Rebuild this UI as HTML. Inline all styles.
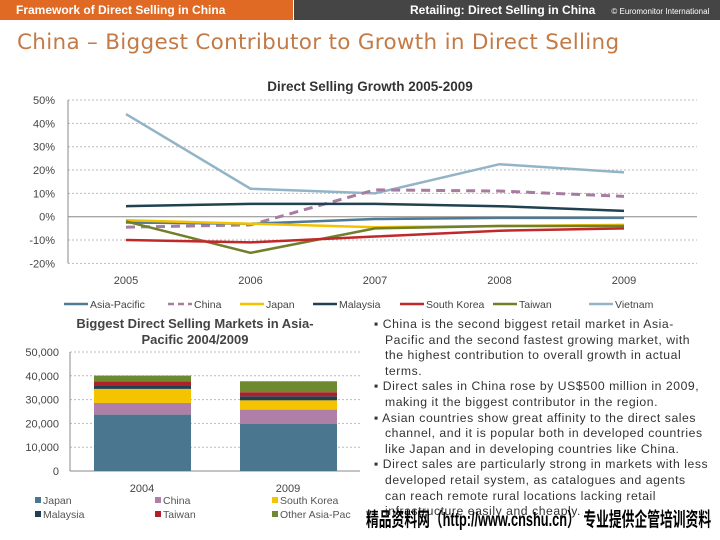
<!DOCTYPE html>
<html><head><meta charset="utf-8">
<style>
body{margin:0;width:720px;height:540px;overflow:hidden;background:#fff;font-family:"Liberation Sans",sans-serif;position:relative}
.hdr1{position:absolute;left:0;top:0;width:293px;height:20px;background:#e06a23;color:#fff;font-size:12px;line-height:21px;padding-left:16px;box-sizing:border-box;font-weight:bold}
.hdr2{position:absolute;left:294px;top:0;width:426px;height:20px;background:#454545;color:#fff;font-size:12px;line-height:21px;font-weight:bold}
.title{position:absolute;left:17px;top:30px;font-family:"DejaVu Sans",sans-serif;font-size:21.5px;color:#c47a45;letter-spacing:0.3px;white-space:nowrap}
.bul{position:absolute;left:374px;top:317px;width:336px;font-size:12.2px;line-height:15.6px;color:#333}
.bul div{padding-left:11px;text-indent:-11px;letter-spacing:0.55px}
.wm{position:absolute;left:366px;top:503px;font-family:"Liberation Sans","Noto Sans CJK SC",sans-serif;font-weight:bold;font-size:19.5px;color:#000;white-space:nowrap;transform-origin:0 0;transform:scaleX(0.655)}
</style></head><body>
<div class="hdr1">Framework of Direct Selling in China</div>
<div class="hdr2"><span style="margin-left:116px">Retailing: Direct Selling in China</span><span style="font-size:8px;margin-left:16px;font-weight:normal">© Euromonitor International</span></div>
<div class="title">China – Biggest Contributor to Growth in Direct Selling</div>
<svg id="line" width="720" height="320" style="position:absolute;left:0;top:0"></svg>
<svg id="bar" width="370" height="540" style="position:absolute;left:0;top:0"></svg>
<div class="bul">
<div>▪ China is the second biggest retail market in Asia-Pacific and the second fastest growing market, with the highest contribution to overall growth in actual terms.</div>
<div>▪ Direct sales in China rose by US$500 million in 2009, making it the biggest contributor in the region.</div>
<div>▪ Asian countries show great affinity to the direct sales channel, and it is popular both in developed countries like Japan and in developing countries like China.</div>
<div>▪ Direct sales are particularly strong in markets with less developed retail system, as catalogues and agents can reach remote rural locations lacking retail infrastructure easily and cheaply.</div>
</div>
<div class="wm">精品资料网（http://www.cnshu.cn） 专业提供企管培训资料</div>
<script>
const years=["2005","2006","2007","2008","2009"];
const yTicks=[50,40,30,20,10,0,-10,-20];
const seriesNames=["Asia-Pacific","China","Japan","Malaysia","South Korea","Taiwan","Vietnam"];
const asiaPacific=[-2.5,-3,-1,-0.5,-0.5];
const china=[-4.5,-3.5,11.5,11,8.7];
const japan=[-1.5,-3,-4.5,-4,-3.5];
const malaysia=[4.5,5.5,5.5,4.5,2.5];
const southKorea=[-10,-11,-8.5,-6,-5];
const taiwan=[-2,-15.5,-5,-4,-4];
const vietnam=[44,12,10,22.5,19];

const barCats=["2004","2009"];
const barSeries=["Japan","China","South Korea","Malaysia","Taiwan","Other Asia-Pac"];
const jp=[23700,19900];
const cn=[4900,5900];
const sk=[5900,3900];
const my=[1400,1700];
const tw=[1800,1700];
const oth=[2400,4600];
const barTicks=[0,10000,20000,30000,40000,50000];

const NS="http://www.w3.org/2000/svg";
function mk(p,t,a,txt){const e=document.createElementNS(NS,t);for(const k in a)e.setAttribute(k,a[k]);if(txt!==undefined)e.textContent=txt;p.appendChild(e);return e;}

// line chart
const L=document.getElementById('line');
const ly=v=>216.7-v*2.333;
const lx=i=>126+i*124.5;
let t=mk(L,'text',{x:370,y:91,'text-anchor':'middle','font-size':13.5,'font-weight':'bold',fill:'#333'},'Direct Selling Growth 2005-2009');

yTicks.forEach(v=>{
 let g=mk(L,'line',{x1:68,x2:697,y1:ly(v),y2:ly(v),stroke:v===0?'#888':'#bbb','stroke-width':1,'stroke-dasharray':v===0?'':'2,2'});
 
 let tx=mk(L,'text',{x:55,y:ly(v)+4,'text-anchor':'end','font-size':11,fill:'#444'},v+'%');
 
});
mk(L,'line',{x1:68,x2:68,y1:ly(50),y2:ly(-20),stroke:'#888'});
years.forEach((y,i)=>{
 let tx=mk(L,'text',{x:lx(i),y:284,'text-anchor':'middle','font-size':11,fill:'#444'},y);
 
});
const lineData=[asiaPacific,china,japan,malaysia,southKorea,taiwan,vietnam];
const lineColors=['#4e7a93','#a87ca0','#f2c200','#1f4150','#c0282a','#6f7f2a','#93b4c7'];
const order=[6,1,3,0,2,5,4];
order.forEach(si=>{
 const pts=lineData[si].map((v,i)=>lx(i)+','+ly(v)).join(' ');
 let p=mk(L,'polyline',{points:pts,fill:'none',stroke:lineColors[si],'stroke-width':si===1?3:2.5,'stroke-dasharray':si===1?'9,6':''});
 
});
const legX=[64,168,240,313,400,493,589];
seriesNames.forEach((n,i)=>{
 let g=mk(L,'g',{});
 
 mk(g,'line',{x1:legX[i],x2:legX[i]+24,y1:304,y2:304,stroke:lineColors[i],'stroke-width':2.5,'stroke-dasharray':i===1?'6,4':''});
 mk(g,'text',{x:legX[i]+26,y:308,'font-size':10.5,fill:'#444'},n);
});

// bar chart
const B=document.getElementById('bar');
const by=v=>471-v*119/50000;
t=mk(B,'text',{x:195,y:328,'text-anchor':'middle','font-size':13,'font-weight':'bold',fill:'#444'},'Biggest Direct Selling Markets in Asia-');

mk(B,'text',{x:195,y:344,'text-anchor':'middle','font-size':13,'font-weight':'bold',fill:'#444'},'Pacific 2004/2009');
barTicks.forEach(v=>{
 if(v>0){let g=mk(B,'line',{x1:70,x2:360,y1:by(v),y2:by(v),stroke:'#bbb','stroke-dasharray':'2,2'});}
 let tx=mk(B,'text',{x:59,y:by(v)+4,'text-anchor':'end','font-size':11,fill:'#444'},v.toLocaleString('en-US'));
 
});
mk(B,'line',{x1:70,x2:360,y1:471,y2:471,stroke:'#888'});
mk(B,'line',{x1:70,x2:70,y1:352,y2:471,stroke:'#888'});
const barData=[jp,cn,sk,my,tw,oth];
const barColors=['#4b7690','#b07fa8','#f5c400','#20404f','#b02028','#6e8a30'];
const bx=i=>94+i*146;
barCats.forEach((c,i)=>{
 let acc=0;
 barData.forEach((s,si)=>{
  const y0=by(acc),y1=by(acc+s[i]);acc+=s[i];
  let r=mk(B,'rect',{x:bx(i),y:y1,width:97,height:y0-y1,fill:barColors[si]});
  
 });
 let tx=mk(B,'text',{x:bx(i)+48,y:492,'text-anchor':'middle','font-size':11,fill:'#444'},c);
 
});
const blx=[35,155,272];
barSeries.forEach((n,i)=>{
 const x=blx[i%3],y=i<3?503:517;
 let g=mk(B,'g',{});
 
 mk(g,'rect',{x:x,y:y-6,width:6,height:6,fill:barColors[i]});
 mk(g,'text',{x:x+8,y:y+1,'font-size':10.5,fill:'#555'},n);
});
</script>
</body></html>
